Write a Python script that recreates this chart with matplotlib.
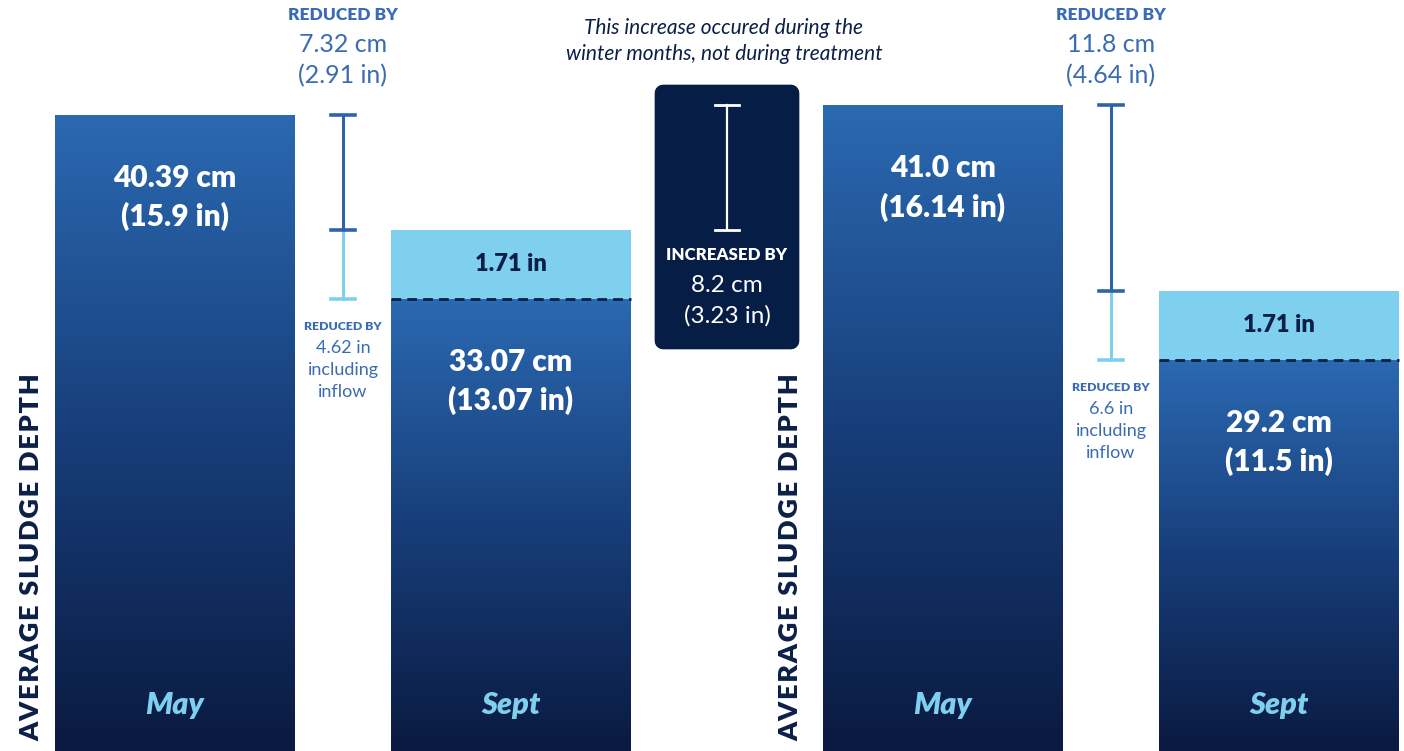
import numpy as np
import matplotlib.pyplot as plt
from matplotlib.colors import LinearSegmentedColormap
from matplotlib.patches import Rectangle, FancyBboxPatch

plt.rcParams['font.family'] = ['Lato', 'DejaVu Sans']

# data (cm)
months = ["May", "Sept", "May", "Sept"]
depth_cm = [40.39, 33.07, 41.0, 29.2]
depth_in = [15.9, 13.07, 16.14, 11.5]
inflow_in = [0, 1.71, 0, 1.71]
reduced_cm = [7.32, 11.8]
reduced_in = [2.91, 4.64]
reduced_incl_inflow = ["4.62 in", "6.6 in"]
increase_cm = 8.2
increase_in = 3.23
ylabel = "AVERAGE SLUDGE DEPTH"

# layout
W, H = 1404, 751
PX = 15.75                      # pixels per cm
centers = [175, 511, 943, 1279]
bar_w = 240
err_x = [343, 1111]
BW = "heavy"

navy = "#0b1f47"
boxnavy = "#061d45"
blue = "#3a6cb4"
errblue = "#2f63a8"
light = "#7fd0ef"
cmap = LinearSegmentedColormap.from_list("sludge", ["#0a1a40", "#173e7a", "#2b69b1"])

def yp(p):
    return (H - p) / PX

fig = plt.figure(figsize=(W / 100, H / 100), dpi=100)
ax = fig.add_axes([0, 0, 1, 1])
ax.set_xlim(0, W)
ax.set_ylim(0, H / PX)
ax.axis("off")

grad = np.linspace(0, 1, 256).reshape(-1, 1)
for i in range(4):
    x0 = centers[i] - bar_w / 2
    inflow_cm = inflow_in[i] * 2.54
    top = depth_cm[i]
    dark_top = top - inflow_cm
    im = ax.imshow(grad, cmap=cmap, origin="lower", aspect="auto",
                   extent=[x0, x0 + bar_w, 0, dark_top], zorder=1)
    r = Rectangle((x0, 0), bar_w, dark_top, facecolor="none", edgecolor="none")
    ax.add_patch(r)
    im.set_clip_path(r)
    if inflow_cm > 0:
        ax.add_patch(Rectangle((x0, dark_top), bar_w, inflow_cm, facecolor=light,
                               edgecolor="none", zorder=1))
        ax.plot([x0, x0 + bar_w], [dark_top, dark_top], color=navy, lw=2,
                dashes=(3.5, 2.2), zorder=3)
        ax.text(centers[i], dark_top + inflow_cm / 2, f"{inflow_in[i]} in", color=navy,
                fontsize=17, fontweight=BW, ha="center", va="center")
    ax.text(centers[i], dark_top - 63 / PX, f"{depth_cm[i]} cm", color="white",
            fontsize=21.5, fontweight=BW, ha="center", va="center")
    ax.text(centers[i], dark_top - 102 / PX, f"({depth_in[i]} in)", color="white",
            fontsize=21.5, fontweight=BW, ha="center", va="center")
    ax.text(centers[i], yp(705), months[i], color=light, fontsize=22,
            fontweight=BW, style="italic", ha="center", va="center")

# reduction brackets
for k in range(2):
    may, sept = depth_cm[2 * k], depth_cm[2 * k + 1]
    low = sept - inflow_in[2 * k + 1] * 2.54
    x = err_x[k]
    cw = 12
    ax.plot([x, x], [sept, may], color=errblue, lw=2.2, zorder=2)
    ax.plot([x, x], [low, sept], color=light, lw=2.2, zorder=2)
    ax.plot([x - cw, x + cw], [may, may], color=errblue, lw=2.6)
    ax.plot([x - cw, x + cw], [low, low], color=light, lw=2.6)
    ax.plot([x - cw, x + cw], [sept, sept], color=errblue, lw=2.6, zorder=3)
    ax.text(x, yp(15), "REDUCED BY", color=blue, fontsize=12.5, fontweight=BW,
            ha="center", va="center")
    ax.text(x, yp(45), f"{reduced_cm[k]} cm", color=blue, fontsize=18,
            ha="center", va="center")
    ax.text(x, yp(76), f"({reduced_in[k]} in)", color=blue, fontsize=18,
            ha="center", va="center")
    ty = (H - low * PX) + 28
    ax.text(x, yp(ty), "REDUCED BY", color=blue, fontsize=8.8, fontweight=BW,
            ha="center", va="center")
    for j, s in enumerate([reduced_incl_inflow[k], "including", "inflow"]):
        ax.text(x, yp(ty + 21 + 22 * j), s, color=blue, fontsize=13,
                ha="center", va="center")

# y labels, letter spaced with hair spaces
spaced = "\u200a".join(ylabel)
for xl in [31, 790]:
    ax.text(xl, yp(373), spaced, color=navy, fontsize=19.5,
            fontweight=BW, rotation=90, ha="center", va="top")

# winter increase box
ax.add_patch(FancyBboxPatch((663, yp(341)), 128, (341 - 93) / PX,
                            boxstyle="round,pad=0,rounding_size=0", mutation_aspect=1,
                            facecolor=boxnavy, edgecolor=boxnavy, lw=12,
                            joinstyle="round", zorder=1))
bx = 727
ax.plot([bx, bx], [depth_cm[1], depth_cm[2]], color="white", lw=1.6, zorder=3)
ax.plot([bx - 12, bx + 12], [depth_cm[2]] * 2, color="white", lw=2, zorder=3)
ax.plot([bx - 12, bx + 12], [depth_cm[1]] * 2, color="white", lw=2, zorder=3)
ax.text(bx, yp(255), "INCREASED BY", color="white", fontsize=12.2, fontweight=BW,
        ha="center", va="center")
ax.text(bx, yp(285), f"{increase_cm} cm", color="white", fontsize=17.5,
        ha="center", va="center")
ax.text(bx, yp(316), f"({increase_in} in)", color="white", fontsize=17.5,
        ha="center", va="center")
ax.text(724, yp(28), "This increase occured during the", color=navy, fontsize=15,
        style="italic", ha="center", va="center")
ax.text(724, yp(54), "winter months, not during treatment", color=navy, fontsize=15,
        style="italic", ha="center", va="center")

fig.savefig("out.png", dpi=100)
